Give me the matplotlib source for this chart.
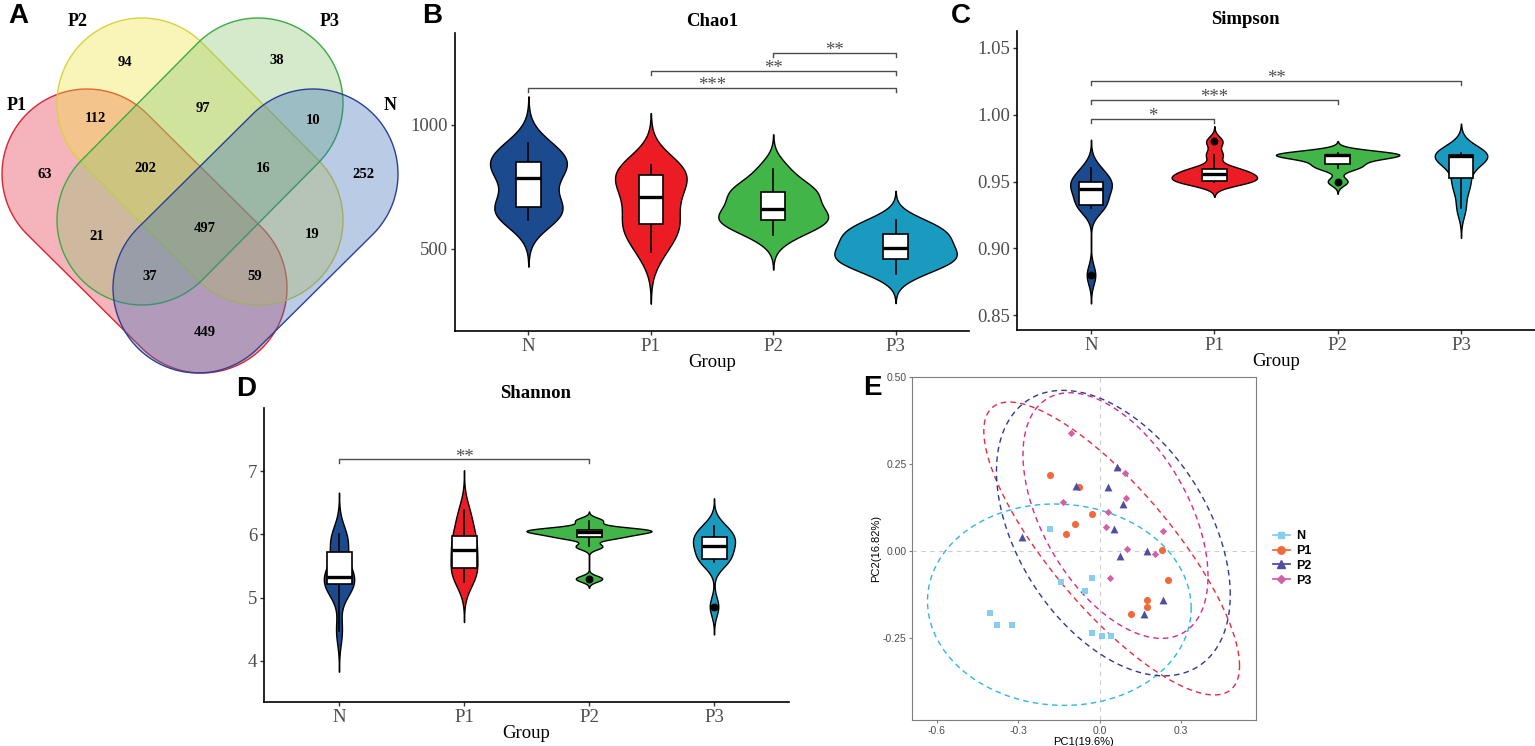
import numpy as np
import matplotlib
matplotlib.use("Agg")
import matplotlib.pyplot as plt
from matplotlib.lines import Line2D
from matplotlib.patches import Polygon, Rectangle

W, H = 1535, 746
SERIF = "Liberation Serif"
SANS = "Liberation Sans"

# ---------------- data ----------------
groups = ["N", "P1", "P2", "P3"]

chao1_values = [
    [617, 640, 665, 680, 760, 810, 840, 855, 880, 927],
    [488, 560, 600, 610, 690, 730, 775, 808, 825, 839],
    [556, 600, 615, 625, 640, 680, 720, 735, 750, 823],
    [399, 440, 455, 465, 495, 512, 540, 565, 580, 617],
]
simpson_values = [
    [0.880, 0.9305, 0.932, 0.935, 0.943, 0.946, 0.948, 0.950, 0.955, 0.960],
    [0.950, 0.950, 0.950, 0.952, 0.955, 0.956, 0.958, 0.960, 0.970, 0.980],
    [0.950, 0.960, 0.962, 0.965, 0.970, 0.970, 0.970, 0.970, 0.970, 0.971],
    [0.930, 0.945, 0.950, 0.960, 0.968, 0.970, 0.970, 0.970, 0.970, 0.971],
]
shannon_values = [
    [4.48, 5.10, 5.20, 5.25, 5.30, 5.35, 5.50, 5.80, 5.90, 6.01],
    [5.25, 5.35, 5.45, 5.50, 5.70, 5.80, 5.90, 6.00, 6.20, 6.38],
    [5.30, 5.81, 5.95, 5.97, 6.03, 6.05, 6.06, 6.07, 6.10, 6.22],
    [4.86, 5.56, 5.60, 5.65, 5.80, 5.85, 5.90, 5.98, 6.05, 6.13],
]

# significance brackets: (group a, group b, height, stars)
chao1_sig = [("N", "P3", 1149, "***"), ("P1", "P3", 1218, "**"), ("P2", "P3", 1290, "**")]
simpson_sig = [("N", "P1", 0.997, "*"), ("N", "P2", 1.0113, "***"), ("N", "P3", 1.0253, "**")]
shannon_sig = [("N", "P2", 7.19, "**")]

# venn: set names and region counts
venn_names = ["P1", "P2", "P3", "N"]
venn_counts = [94, 38, 112, 97, 10, 63, 202, 16, 252, 21, 497, 19, 37, 59, 449]

# PCoA coordinates
pc1_n = [-0.404, -0.377, -0.324, -0.185, -0.143, -0.054, -0.027, -0.027, 0.009, 0.043]
pc2_n = [-0.179, -0.214, -0.214, 0.062, -0.090, -0.115, -0.078, -0.236, -0.244, -0.244]
pc1_p1 = [-0.184, -0.075, -0.028, -0.092, -0.126, 0.229, 0.250, 0.176, 0.174, 0.116]
pc2_p1 = [0.218, 0.184, 0.106, 0.078, 0.049, 0.002, -0.085, -0.142, -0.162, -0.183]
pc1_p2 = [0.064, -0.088, 0.032, 0.086, 0.051, -0.287, 0.076, 0.173, 0.233, 0.162]
pc2_p2 = [0.241, 0.186, 0.183, 0.135, 0.064, 0.039, -0.014, 0.000, -0.143, -0.183]
pc1_p3 = [-0.105, 0.094, 0.096, -0.135, 0.032, 0.023, 0.235, 0.100, 0.203, 0.038]
pc2_p3 = [0.339, 0.225, 0.151, 0.140, 0.112, 0.069, 0.058, 0.005, -0.009, -0.077]
pc1_label = "PC1(19.6%)"
pc2_label = "PC2(16.82%)"

# ---------------- style ----------------
violin_colors = ["#1B4A8E", "#EC1C24", "#42B549", "#199BBF"]
point_colors = ["#86CDF0", "#F26A3C", "#4E4FA0", "#D460A8"]
ellipse_colors = ["#2CB7EA", "#EA2B3E", "#2E3A92", "#D4298F"]
point_markers = ["s", "o", "^", "D"]
point_sizes = [22, 26, 32, 14]
ELLIPSE_R = 2.9177  # sqrt(2 * qf(0.95, 2, 9)), 95% normal ellipse for n = 10

fig = plt.figure(figsize=(W / 100, H / 100), dpi=100)


def add_px_axes(x0, y0, x1, y1):
    return fig.add_axes([x0 / W, 1 - y1 / H, (x1 - x0) / W, (y1 - y0) / H])


def fig_text(x, y, s, **kw):
    fig.text(x / W, 1 - y / H, s, **kw)


def nrd0(v):
    sd = v.std(ddof=1)
    q1, q3 = np.percentile(v, [25, 75])
    lo = min(sd, (q3 - q1) / 1.34)
    if lo <= 0:
        lo = sd
    return 0.9 * lo * len(v) ** -0.2


def kde(v):
    v = np.asarray(v, float)
    bw = nrd0(v)
    y = np.linspace(v.min() - 3 * bw, v.max() + 3 * bw, 512)
    d = np.exp(-0.5 * ((y[:, None] - v[None, :]) / bw) ** 2).sum(1)
    d /= len(v) * bw * np.sqrt(2 * np.pi)
    return y, d


def violin_panel(ax, values, ylim, yticks, yfmt, sig, px_height):
    dens = [kde(v) for v in values]
    dmax = max(d.max() for _, d in dens)
    for i, ((yy, d), v, col) in enumerate(zip(dens, values, violin_colors)):
        x = i + 1
        hw = 0.5 * d / dmax
        ax.fill_betweenx(yy, x - hw, x + hw, facecolor=col, edgecolor="black",
                         lw=1.0, zorder=2)
        v = np.asarray(v, float)
        q1, med, q3 = np.percentile(v, [25, 50, 75])
        iqr = q3 - q1
        lo = v[v >= q1 - 1.5 * iqr].min()
        hi = v[v <= q3 + 1.5 * iqr].max()
        ax.plot([x, x], [q3, hi], color="black", lw=1.2, zorder=3)
        ax.plot([x, x], [lo, q1], color="black", lw=1.2, zorder=3)
        ax.add_patch(Rectangle((x - 0.1, q1), 0.2, q3 - q1, facecolor="white",
                               edgecolor="black", lw=1.2, zorder=4))
        ax.plot([x - 0.1, x + 0.1], [med, med], color="black", lw=2.4, zorder=5,
                solid_capstyle="butt")
        out = v[(v < lo) | (v > hi)]
        if len(out):
            ax.scatter(np.full(len(out), x), out, s=22, color="black", zorder=6)

    tick = (ylim[1] - ylim[0]) * 4 / px_height
    for a, b, yv, stars in sig:
        xa, xb = groups.index(a) + 1, groups.index(b) + 1
        ax.plot([xa, xa, xb, xb], [yv - tick, yv, yv, yv - tick], color="#4D4D4D",
                lw=1.0, zorder=3)
        ax.annotate(stars, ((xa + xb) / 2, yv), xytext=(0, 1.5),
                    textcoords="offset points", ha="center", va="center",
                    fontsize=13.5, family=SERIF, color="#4D4D4D")

    ax.set_xlim(0.4, 4.6)
    ax.set_ylim(*ylim)
    ax.set_xticks(range(1, 5))
    ax.set_xticklabels(groups)
    ax.set_yticks(yticks)
    ax.set_yticklabels([yfmt.format(t) for t in yticks])
    for s in ["top", "right"]:
        ax.spines[s].set_visible(False)
    for s in ["left", "bottom"]:
        ax.spines[s].set_linewidth(1.2)
    ax.tick_params(length=3, width=1, color="#333333", labelcolor="#4D4D4D",
                   labelsize=13.5, pad=2)
    for lab in ax.get_xticklabels() + ax.get_yticklabels():
        lab.set_family(SERIF)
    ax.set_xlabel("Group", family=SERIF, fontsize=13.5, labelpad=-1)


# ---------------- A: venn ----------------
def stadium(c1, c2, r):
    c1, c2 = np.array(c1, float), np.array(c2, float)
    d = c2 - c1
    th = np.arctan2(d[1], d[0])
    t1 = np.linspace(th - np.pi / 2, th + np.pi / 2, 60)
    t2 = np.linspace(th + np.pi / 2, th + 3 * np.pi / 2, 60)
    arc2 = c2 + r * np.c_[np.cos(t1), np.sin(t1)]
    arc1 = c1 + r * np.c_[np.cos(t2), np.sin(t2)]
    return np.vstack([arc2, arc1])


ax_v = add_px_axes(0, 0, 405, 380)
ax_v.set_xlim(0, 405)
ax_v.set_ylim(380, 0)
ax_v.axis("off")
venn_caps = [((87, 174), (202, 288)), ((142, 103), (258, 220)),
             ((258, 103), (142, 220)), ((313, 174), (198, 288))]
venn_fill = ["#E4283F", "#F0E536", "#86C36A", "#376AB7"]
venn_edge = ["#D7262E", "#D8D23C", "#3DAA45", "#2B3F98"]
for (c1, c2), fc, ec in zip(venn_caps, venn_fill, venn_edge):
    pts = stadium(c1, c2, 85)
    ax_v.add_patch(Polygon(pts, closed=True, facecolor=fc, alpha=0.35, lw=0))
    ax_v.add_patch(Polygon(pts, closed=True, fill=False, edgecolor=ec, lw=1.0))
venn_label_xy = [(125, 62), (277, 60), (95, 119), (203, 109), (313, 121), (45, 175),
                 (145, 169), (263, 169), (363, 175), (97, 237), (205, 229), (312, 234),
                 (150, 277), (255, 277), (205, 333)]
for (x, y), n in zip(venn_label_xy, venn_counts):
    ax_v.text(x, y, str(n), ha="center", va="center", fontsize=10.5,
              fontweight="bold", family=SERIF)
for (x, y), name in zip([(17, 105), (78, 22), (330, 22), (390, 105)], venn_names):
    ax_v.text(x, y, name, ha="center", va="center", fontsize=13,
              fontweight="bold", family=SERIF)

# ---------------- B: Chao1 ----------------
ax_b = add_px_axes(455, 33, 969, 331)
violin_panel(ax_b, chao1_values, (169, 1371), [500, 1000], "{:.0f}", chao1_sig, 298)

# ---------------- C: Simpson ----------------
ax_c = add_px_axes(1017, 31, 1535, 330)
violin_panel(ax_c, simpson_values, (0.8388, 1.0627), [0.85, 0.90, 0.95, 1.00, 1.05],
             "{:.2f}", simpson_sig, 299)

# ---------------- D: Shannon ----------------
ax_d = add_px_axes(264, 408, 789, 702)
violin_panel(ax_d, shannon_values, (3.35, 8.0), [4, 5, 6, 7], "{:.0f}", shannon_sig, 294)

# ---------------- E: PCoA ----------------
ax_e = add_px_axes(912, 377, 1256, 720)
pcs = [(pc1_n, pc2_n), (pc1_p1, pc2_p1), (pc1_p2, pc2_p2), (pc1_p3, pc2_p3)]
ax_e.axhline(0, color="#CCCCCC", lw=0.8, ls=(0, (4, 4)), zorder=1)
ax_e.axvline(0, color="#CCCCCC", lw=0.8, ls=(0, (4, 4)), zorder=1)
t = np.linspace(0, 2 * np.pi, 200)
circle = np.c_[np.cos(t), np.sin(t)]
handles = []
for (px, py), g, pc, ec, mk, ms in zip(pcs, groups, point_colors, ellipse_colors,
                                        point_markers, point_sizes):
    xy = np.c_[px, py]
    cov = np.cov(xy.T)
    ell = xy.mean(0) + ELLIPSE_R * circle @ np.linalg.cholesky(cov).T
    ax_e.plot(ell[:, 0], ell[:, 1], color=ec, lw=1.0, ls=(0, (4, 3)), zorder=2)
    ax_e.scatter(px, py, marker=mk, s=ms, color=pc, lw=0, zorder=3)
    handles.append(Line2D([0], [0], color=pc, lw=1.3, marker=mk,
                          markersize=np.sqrt(ms) * 1.05, label=g))
ax_e.set_xlim(-0.692, 0.576)
ax_e.set_ylim(-0.487, 0.50)
ax_e.set_xticks([-0.6, -0.3, 0.0, 0.3])
ax_e.set_xticklabels(["-0.6", "-0.3", "0.0", "0.3"])
ax_e.set_yticks([-0.25, 0.0, 0.25, 0.50])
ax_e.set_yticklabels(["-0.25", "0.00", "0.25", "0.50"])
for s in ax_e.spines.values():
    s.set_color("#7F7F7F")
    s.set_linewidth(0.8)
ax_e.tick_params(length=2.5, width=0.8, color="#7F7F7F", labelcolor="#4D4D4D",
                 labelsize=7.5, pad=1.5)
for lab in ax_e.get_xticklabels() + ax_e.get_yticklabels():
    lab.set_family(SANS)
ax_e.set_xlabel(pc1_label, family=SANS, fontsize=8, labelpad=1)
ax_e.set_ylabel(pc2_label, family=SANS, fontsize=8, labelpad=1)
fig.legend(handles=handles, loc="upper left", bbox_to_anchor=(1262 / W, 1 - 519 / H),
           frameon=False, prop={"family": SANS, "size": 9, "weight": "bold"},
           handlelength=1.3, handletextpad=0.5, labelspacing=0.22)

# ---------------- titles and panel letters ----------------
for x, y, s in [(712, 21, "Chao1"), (1245, 20, "Simpson"), (536, 393, "Shannon")]:
    fig_text(x, y, s, ha="center", va="center", fontsize=13.5, fontweight="bold",
             family=SERIF)
for x, y, s in [(18, 16, "A"), (432, 16, "B"), (961, 16, "C"), (246, 389, "D"),
                (872, 388, "E")]:
    fig_text(x, y, s, ha="center", va="center", fontsize=20, fontweight="bold",
             family=SANS)

fig.savefig("out.png", dpi=100)
